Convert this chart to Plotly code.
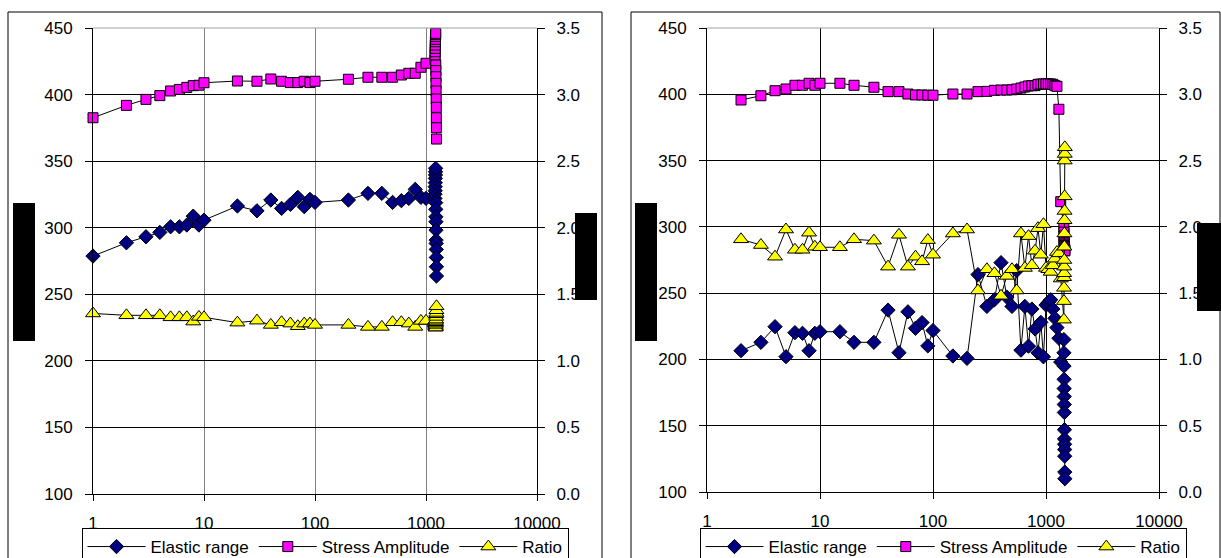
import plotly.graph_objects as go

# ---------------- data: left chart ----------------
left_cycles = [1, 2, 3, 4, 5, 6, 7, 8, 9, 10,
               20, 30, 40, 50, 60, 70, 80, 90, 100,
               200, 300, 400, 500, 600, 700, 800, 900, 1000,
               1205, 1207, 1209, 1211, 1213, 1215, 1217, 1219, 1221, 1223,
               1225, 1227, 1229, 1231, 1233, 1235, 1237, 1239, 1241, 1243]
left_elastic = [278.7, 288.7, 293.2, 296.5, 300.7, 300.7, 302.0, 308.7, 302.0, 305.7,
                316.3, 312.7, 320.8, 314.5, 317.5, 322.8, 315.8, 321.3, 319.0,
                320.8, 325.8, 325.8, 319.0, 320.3, 322.0, 328.8, 322.8, 322.0,
                322.0, 325.3, 327.8, 330.8, 333.8, 337.0, 339.6, 342.0, 344.6, 318.8,
                313.8, 308.2, 304.5, 298.2, 290.7, 288.2, 283.7, 277.7, 270.7, 263.7]
left_stress = [382.6, 391.9, 396.4, 399.2, 402.7, 403.9, 405.4, 406.7, 407.0, 408.9,
               410.2, 410.0, 411.7, 410.0, 409.0, 409.0, 410.0, 409.0, 410.0,
               411.5, 413.0, 413.0, 413.0, 414.7, 416.0, 416.0, 420.5, 423.5,
               426.0, 429.7, 432.2, 434.7, 437.2, 439.7, 441.5, 443.5, 445.0, 446.0,
               422.2, 418.0, 413.4, 408.4, 402.7, 396.7, 390.4, 382.6, 375.1, 366.6]
left_ratio = [1.356, 1.342, 1.342, 1.342, 1.327, 1.327, 1.327, 1.295, 1.330, 1.327,
              1.287, 1.302, 1.270, 1.290, 1.280, 1.260, 1.280, 1.280, 1.270,
              1.270, 1.255, 1.255, 1.290, 1.290, 1.280, 1.255, 1.300, 1.300,
              1.300, 1.290, 1.280, 1.280, 1.270, 1.270, 1.260, 1.260, 1.250, 1.250,
              1.270, 1.280, 1.290, 1.300, 1.310, 1.330, 1.350, 1.360, 1.380, 1.410]

# ---------------- data: right chart ----------------
right_cycles = [2, 3, 4, 5, 6, 7, 8, 9, 10, 15, 20, 30, 40, 50, 60, 70, 80, 90, 100,
                150, 200, 250, 300, 350, 400, 450, 500, 550, 600, 650, 700, 750, 800,
                850, 900, 950, 1000, 1050, 1100, 1150, 1200, 1250, 1300, 1350,
                1440, 1442, 1444, 1446, 1448, 1450, 1452, 1454, 1456, 1458,
                1460, 1462, 1464, 1466, 1468]
right_elastic = [206.6, 212.9, 224.7, 202.1, 220.2, 219.7, 206.6, 219.7, 220.9, 220.9,
                 212.9, 212.9, 237.2, 205.1, 235.9, 223.5, 227.8, 210.2, 221.8,
                 202.6, 200.8, 264.0, 240.0, 245.0, 273.0, 247.0, 240.0, 267.0, 207.0,
                 240.0, 210.0, 238.0, 223.0, 205.0, 228.0, 202.0, 241.0, 243.0, 245.0,
                 238.0, 231.0, 224.0, 216.0, 198.0,
                 215.0, 205.0, 195.0, 185.0, 178.0, 172.0, 166.0, 160.0, 147.0, 140.0,
                 136.0, 132.0, 127.0, 115.0, 110.0]
right_stress = [395.7, 398.9, 402.7, 404.0, 406.8, 406.8, 408.3, 406.8, 408.3, 408.3,
                406.8, 405.3, 402.0, 402.0, 400.2, 399.5, 399.5, 399.3, 399.3,
                400.2, 400.2, 402.0, 402.2, 403.0, 403.2, 403.2, 403.4, 404.0, 404.7,
                405.5, 406.3, 406.5, 406.5, 407.5, 407.7, 407.8, 407.8, 407.8, 407.8,
                407.5, 406.5, 406.0, 388.7, 319.0,
                300.0, 296.0, 293.0, 290.0, 288.0, 287.0, 286.0, 285.0, 285.0, 284.0,
                284.0, 283.0, 283.0, 282.0, 282.0]
right_ratio = [1.906, 1.863, 1.775, 1.980, 1.827, 1.827, 1.956, 1.850, 1.846, 1.846,
               1.906, 1.896, 1.700, 1.940, 1.700, 1.775, 1.740, 1.900, 1.790,
               1.950, 1.980, 1.520, 1.680, 1.650, 1.480, 1.630, 1.680, 1.520, 1.950,
               1.690, 1.930, 1.710, 1.820, 1.990, 1.790, 2.020, 1.690, 1.680, 1.660,
               1.710, 1.760, 1.810, 1.800, 1.610,
               1.300, 1.440, 1.540, 1.620, 1.650, 1.700, 1.750, 1.850, 1.950, 2.050,
               2.120, 2.230, 2.500, 2.550, 2.600]

x_tick_vals = [1, 10, 100, 1000, 10000]
x_tick_text = ["1", "10", "100", "1000", "10000"]
series_names = ["Elastic range", "Stress Amplitude", "Ratio"]

FONT = "Liberation Sans, Arial, sans-serif"
TICK_SIZE = 17
LEG_SIZE = 17
W, H = 1221, 558

fig = go.Figure()

def add_panel(xa, ya_left, ya_right, legend, cyc, el, st, ra):
    common = dict(mode="lines+markers", line=dict(color="black", width=1),
                  cliponaxis=False, legend=legend)
    fig.add_trace(go.Scatter(x=cyc, y=el, name=series_names[0], xaxis=xa, yaxis=ya_left,
                             marker=dict(symbol="diamond", size=11, color="#000080",
                                         line=dict(color="black", width=1)), **common))
    fig.add_trace(go.Scatter(x=cyc, y=st, name=series_names[1], xaxis=xa, yaxis=ya_left,
                             marker=dict(symbol="square", size=10, color="#FF00FF",
                                         line=dict(color="black", width=1)), **common))
    fig.add_trace(go.Scatter(x=cyc, y=ra, name=series_names[2], xaxis=xa, yaxis=ya_right,
                             marker=dict(symbol="triangle-up", size=13, color="#FFFF00",
                                         line=dict(color="black", width=1)), **common))

add_panel("x", "y", "y2", "legend", left_cycles, left_elastic, left_stress, left_ratio)
add_panel("x2", "y3", "y4", "legend2", right_cycles, right_elastic, right_stress, right_ratio)

def px_x(p):
    return p / W

def px_y(p):
    return 1 - p / H

ydom = [px_y(494), px_y(28)]
ydom2 = [px_y(492), px_y(28)]

tickfont = dict(family=FONT, size=TICK_SIZE, color="black")
xbase = dict(type="log", range=[0, 4], tickvals=x_tick_vals, ticktext=x_tick_text,
             showline=True, linecolor="black", linewidth=1, ticks="outside",
             ticklen=6, tickcolor="black", ticklabelstandoff=8,
             showgrid=True, gridwidth=1, zeroline=False, tickfont=tickfont)
yleft = dict(range=[100, 450], dtick=50, showline=True, linecolor="black", linewidth=1,
             ticks="outside", ticklen=7, tickcolor="black", ticklabelstandoff=9,
             showgrid=True, gridcolor="black", gridwidth=1, zeroline=False,
             tickfont=tickfont)
yright = dict(range=[0, 3.5], dtick=0.5, tickformat=".1f", side="right",
              showline=True, linecolor="black", linewidth=1, ticks="outside",
              ticklen=7, tickcolor="black", ticklabelstandoff=8, showgrid=False,
              zeroline=False, tickfont=tickfont)

legfont = dict(family=FONT, size=LEG_SIZE, color="black")
fig.update_layout(
    width=W, height=H, margin=dict(l=0, r=0, t=0, b=0, autoexpand=False),
    paper_bgcolor="white", plot_bgcolor="white",
    font=dict(family=FONT, size=TICK_SIZE, color="black"),
    xaxis=dict(xbase, domain=[px_x(93), px_x(537)], anchor="y", gridcolor="#808080"),
    yaxis=dict(yleft, domain=ydom, anchor="x"),
    yaxis2=dict(yright, overlaying="y", anchor="x"),
    xaxis2=dict(xbase, domain=[px_x(707), px_x(1159)], anchor="y3", gridcolor="black"),
    yaxis3=dict(yleft, domain=ydom2, anchor="x2"),
    yaxis4=dict(yright, overlaying="y3", anchor="x2"),
    legend=dict(orientation="h", x=px_x(325), xanchor="center", y=px_y(528), yanchor="top",
                bordercolor="black", borderwidth=1, itemwidth=58, font=legfont,
                bgcolor="white"),
    legend2=dict(orientation="h", x=px_x(943), xanchor="center", y=px_y(528), yanchor="top",
                 bordercolor="black", borderwidth=1, itemwidth=58, font=legfont,
                 bgcolor="white"),
    showlegend=True,
)

shapes = []
# outer chart borders
shapes.append(dict(type="rect", xref="paper", yref="paper", x0=px_x(8), x1=px_x(602),
                   y0=-0.02, y1=px_y(12), line=dict(color="black", width=1), layer="below"))
shapes.append(dict(type="rect", xref="paper", yref="paper", x0=px_x(631), x1=px_x(1220),
                   y0=-0.02, y1=px_y(12), line=dict(color="black", width=1), layer="below"))
# gray top border of plot areas
for xr, yr in (("x domain", "y domain"), ("x2 domain", "y3 domain")):
    shapes.append(dict(type="line", xref=xr, yref=yr, x0=0, x1=1, y0=1, y1=1,
                       line=dict(color="#a0a0a0", width=1)))
# black boxes over axis titles
for x0, x1, y0, y1 in ((13, 35, 203, 341), (575, 597, 213, 300),
                       (635, 657, 203, 341), (1197, 1221, 223, 311)):
    shapes.append(dict(type="rect", xref="paper", yref="paper", x0=px_x(x0), x1=px_x(x1),
                       y0=px_y(y1), y1=px_y(y0), fillcolor="black", line=dict(width=0),
                       layer="above"))
fig.update_layout(shapes=shapes)

fig.write_html("out.html")
